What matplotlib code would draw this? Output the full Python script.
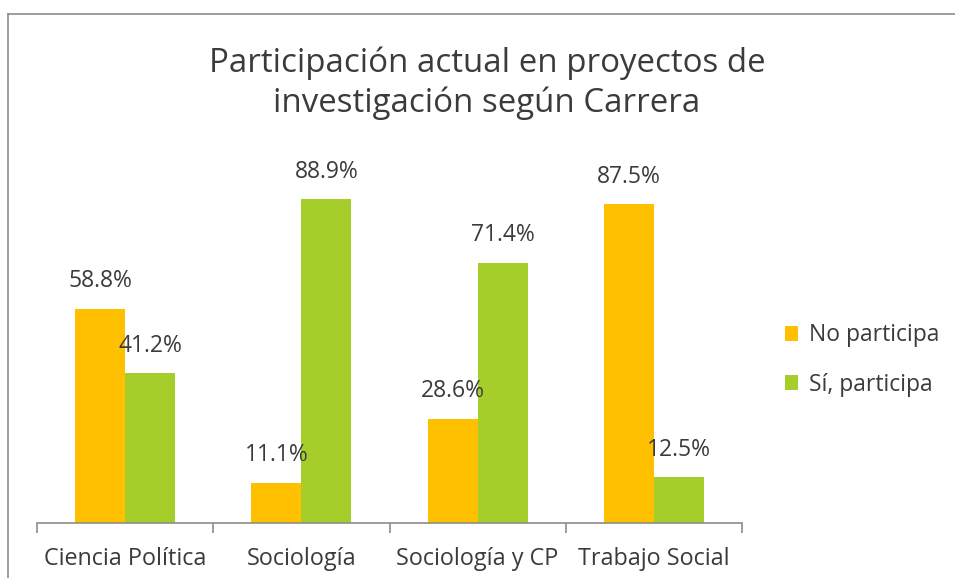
import matplotlib
matplotlib.use("Agg")
import matplotlib.pyplot as plt
import numpy as np
from matplotlib.lines import Line2D

categories = ["Ciencia Política", "Sociología", "Sociología y CP", "Trabajo Social"]
no_participa = [58.8, 11.1, 28.6, 87.5]
si_participa = [41.2, 88.9, 71.4, 12.5]
series_names = ["No participa", "Sí, participa"]
title = "Participación actual en proyectos de\ninvestigación según Carrera"

plt.rcParams['font.family'] = ['Open Sans', 'DejaVu Sans']

W, H = 955, 578
fig = plt.figure(figsize=(W/100, H/100), dpi=100)

# border lines (top and left visible)
fig.add_artist(Line2D([8/W, 8/W], [0, 1 - 14/H], color="#8c8c8c", lw=1.2, transform=fig.transFigure))
fig.add_artist(Line2D([8/W, 1], [1 - 14/H, 1 - 14/H], color="#8c8c8c", lw=1.2, transform=fig.transFigure))

ax_l, ax_r, ax_b, ax_t = 37, 742, 523, 158.5
ax = fig.add_axes([ax_l/W, 1 - ax_b/H, (ax_r-ax_l)/W, (ax_b-ax_t)/H])
ax.set_xlim(-0.5, len(categories) - 0.5)
ax.set_ylim(0, 100)

x = np.arange(len(categories))
bw = 0.284
orange = "#FFC000"
green = "#A6CE2B"
b1 = ax.bar(x - bw/2, no_participa, bw, color=orange, label=series_names[0])
b2 = ax.bar(x + bw/2, si_participa, bw, color=green, label=series_names[1])

for xi, v in zip(x, no_participa):
    ax.text(xi - bw/2, v + 4.2, f"{v:.1f}%", ha="center", va="bottom", fontsize=16.5, color="#3b3b3b")
for xi, v in zip(x, si_participa):
    ax.text(xi + bw/2, v + 4.2, f"{v:.1f}%", ha="center", va="bottom", fontsize=16.5, color="#3b3b3b")

for s in ["top", "right", "left"]:
    ax.spines[s].set_visible(False)
ax.spines["bottom"].set_color("#8c8c8c")
ax.spines["bottom"].set_linewidth(1.2)
ax.set_yticks([])
ax.set_xticks(np.arange(len(categories) + 1) - 0.5, minor=False)
ax.set_xticklabels([])
ax.tick_params(axis="x", length=7, color="#8c8c8c", width=1.2, direction="out")
ax.set_xticks(x, minor=True)
ax.set_xticklabels(categories, minor=True, fontsize=16.8, color="#3b3b3b")
ax.tick_params(axis="x", which="minor", length=0, pad=17)

fig.text(487/W, 1 - 83/H, title, ha="center", va="center", fontsize=23.8, color="#3b3b3b", linespacing=1.25)

ax.legend(handles=[b1, b2], loc="center left", bbox_to_anchor=(764/W, 1 - 360/H),
          bbox_transform=fig.transFigure, frameon=False, fontsize=16.5,
          handlelength=0.6, handleheight=0.6, handletextpad=0.45, labelspacing=1.1,
          labelcolor="#3b3b3b")

fig.savefig("out.png", dpi=100)
